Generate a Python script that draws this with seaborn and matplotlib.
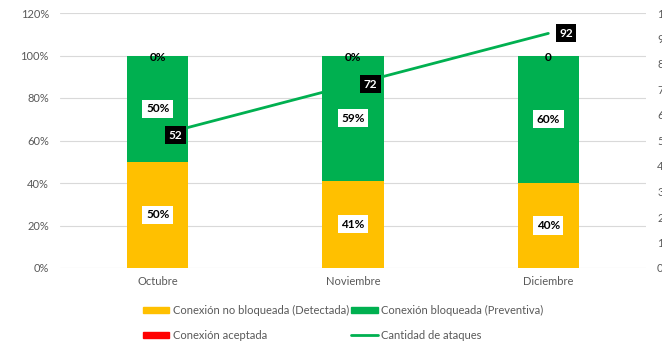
import matplotlib
matplotlib.use("Agg")
import matplotlib.pyplot as plt
import seaborn as sns
import pandas as pd
import numpy as np
from matplotlib.patches import Patch
from matplotlib.lines import Line2D

# Monthly data
meses = ["Octubre", "Noviembre", "Diciembre"]
detectada = [50, 41, 40]          # Conexión no bloqueada (Detectada), %
preventiva = [50, 59, 60]         # Conexión bloqueada (Preventiva), %
aceptada = [0, 0, 0]              # Conexión aceptada, %
aceptada_txt = ["0%", "0%", "0"]
ataques = [52, 72, 92]            # Cantidad de ataques

C_AMARILLO = "#FFC000"
C_VERDE = "#00B050"
C_ROJO = "#FF0000"
GRIS = "#595959"

sns.set_theme(style="white")
plt.rcParams["font.family"] = ["Lato", "DejaVu Sans"]

df = pd.DataFrame({"mes": meses, "det": detectada, "prev": preventiva, "acep": aceptada})
df["tot_prev"] = df["det"] + df["prev"]
df["tot_acep"] = df["tot_prev"] + df["acep"]

fig = plt.figure(figsize=(6.62, 3.42), dpi=100)
ax = fig.add_axes([60 / 662, 74 / 342, 586 / 662, 255 / 342])

bw = 0.314
for col, c in [("tot_acep", C_ROJO), ("tot_prev", C_VERDE), ("det", C_AMARILLO)]:
    sns.barplot(data=df, x="mes", y=col, color=c, width=bw, ax=ax,
                saturation=1, linewidth=0, edgecolor="none", zorder=2)

ax.set_ylim(0, 120)
ax.set_xlim(-0.5, 2.5)
ax.set_yticks(np.arange(0, 121, 20))
ax.set_yticklabels([f"{v}%" for v in range(0, 121, 20)])
ax.yaxis.grid(True, color="#D9D9D9", linewidth=0.8, zorder=0)
ax.set_axisbelow(True)
for s in ax.spines.values():
    s.set_visible(False)
ax.set_xlabel("")
ax.set_ylabel("")
ax.tick_params(axis="both", length=0, labelsize=8, labelcolor=GRIS, pad=8)
ax.tick_params(axis="x", pad=6)

lbl_kw = dict(ha="center", va="center", fontsize=8.5, fontweight="bold", color="black",
              zorder=5)
box_w = dict(boxstyle="square,pad=0.3", fc="white", ec="none")
for i in range(3):
    ax.text(i, detectada[i] / 2, f"{detectada[i]}%", bbox=box_w, **lbl_kw)
    ax.text(i, detectada[i] + preventiva[i] / 2, f"{preventiva[i]}%", bbox=box_w, **lbl_kw)
    ax.text(i, df["tot_acep"][i] - 1.0, aceptada_txt[i], **lbl_kw)

# Attack count on the secondary axis
ax2 = ax.twinx()
sns.lineplot(x=[0, 1, 2], y=ataques, color=C_VERDE, linewidth=2, ax=ax2, zorder=4)
ax2.set_ylim(0, 100)
ax2.set_xlim(-0.5, 2.5)
ax2.set_yticks(np.arange(0, 101, 10))
ax2.set_ylabel("")
for s in ax2.spines.values():
    s.set_visible(False)
ax2.tick_params(axis="y", length=0, labelsize=8, labelcolor=GRIS, pad=8)
box_k = dict(boxstyle="square,pad=0.3", fc="black", ec="none")
for i, v in enumerate(ataques):
    ax2.text(i + 0.09, v, str(v), ha="center", va="center", fontsize=8.5,
             fontweight="bold", color="white", bbox=box_k, zorder=6)

handles = [
    Patch(color=C_AMARILLO, label="Conexión no bloqueada (Detectada)"),
    Patch(color=C_ROJO, label="Conexión aceptada"),
    Patch(color=C_VERDE, label="Conexión bloqueada (Preventiva)"),
    Line2D([0], [0], color=C_VERDE, linewidth=2, label="Cantidad de ataques"),
]
leg = fig.legend(handles=handles, ncol=2, loc="center", bbox_to_anchor=(343 / 662, 1 - 323 / 342),
                 frameon=False, fontsize=8, handlelength=2.4, handleheight=0.45,
                 handletextpad=0.3, columnspacing=0.2, labelspacing=1.2)
for t in leg.get_texts():
    t.set_color(GRIS)

fig.savefig("out.png", dpi=100)
